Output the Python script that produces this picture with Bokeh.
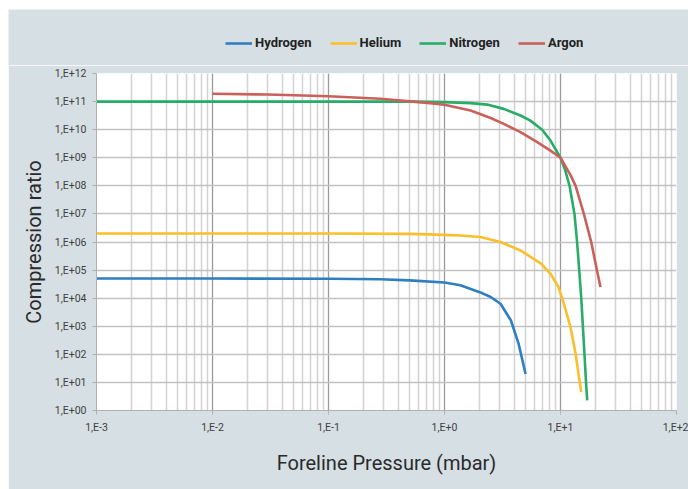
from bokeh.plotting import figure
from bokeh.layouts import column, row
from bokeh.models import (Range1d, FixedTicker, CustomJSTickFormatter, Legend, LegendItem)
from bokeh.embed import file_html
from bokeh.resources import INLINE

# ---- data ----
hydrogen_x = [1e-3, 0.01, 0.1, 0.28, 0.5, 1.0, 1.37, 2.04, 2.5, 3.04, 3.74, 4.35, 5.0]
hydrogen_y = [5.0e4, 5.0e4, 4.9e4, 4.7e4, 4.3e4, 3.6e4, 2.9e4, 1.6e4, 1.1e4, 6.3e3, 1.6e3, 2.4e2, 2.0e1]

helium_x = [1e-3, 0.01, 0.1, 0.5, 1.0, 1.37, 2.04, 3.04, 4.52, 6.8, 8.2, 9.6, 10.7, 12.2, 13.5, 14.3, 15.1]
helium_y = [2.0e6, 2.0e6, 2.0e6, 1.95e6, 1.8e6, 1.7e6, 1.5e6, 1.0e6, 5.0e5, 1.7e5, 7.4e4, 2.5e4, 6.3e3, 9.3e2, 1.05e2, 2.0e1, 4.5]

nitrogen_x = [1e-3, 0.01, 0.1, 0.5, 1.0, 1.68, 2.33, 3.24, 4.52, 5.5, 6.95, 8.2, 10.0, 11.0, 11.97,
              13.2, 13.9, 14.5, 15.1, 16.1, 16.6, 17.0]
nitrogen_y = [1.0e11, 1.0e11, 1.0e11, 1.0e11, 9.6e10, 8.8e10, 7.8e10, 5.5e10, 3.2e10, 2.1e10, 1.0e10, 4.1e9,
              1.0e9, 3.5e8, 1.0e8, 1.0e7, 1.0e6, 1.0e5, 1.0e4, 1.0e2, 1.0e1, 2.3]

argon_x = [0.01, 0.03, 0.1, 0.28, 0.75, 1.0, 1.68, 2.5, 3.24, 4.52, 6.3, 8.2, 10.0, 12.2, 13.5,
           15.9, 18.4, 20.6, 22.1]
argon_y = [1.9e11, 1.78e11, 1.55e11, 1.26e11, 8.8e10, 7.7e10, 4.8e10, 2.6e10, 1.6e10, 8.2e9, 3.6e9,
           1.8e9, 1.0e9, 2.4e8, 1.0e8, 1.0e7, 1.0e6, 1.0e5, 2.5e4]

series_names = ["Hydrogen", "Helium", "Nitrogen", "Argon"]
series_colors = ["#2f7ec1", "#fbbf2a", "#28ad68", "#c9605a"]

x_ticks = [1e-3, 1e-2, 1e-1, 1e0, 1e1, 1e2]
x_tick_labels = ["1,E-3", "1,E-2", "1,E-1", "1,E+0", "1,E+1", "1,E+2"]
y_ticks = [1e0, 1e1, 1e2, 1e3, 1e4, 1e5, 1e6, 1e7, 1e8, 1e9, 1e10, 1e11, 1e12]
y_tick_labels = ["1,E+00", "1,E+01", "1,E+02", "1,E+03", "1,E+04", "1,E+05", "1,E+06",
                 "1,E+07", "1,E+08", "1,E+09", "1,E+10", "1,E+11", "1,E+12"]

FONT = "Roboto"
BG = "#d6dfe3"

# ---- legend strip (top); its data window is empty so only the legend shows ----
leg = figure(width=680, height=56, x_axis_type=None, y_axis_type=None,
             x_range=Range1d(0, 1), y_range=Range1d(-2, -1),
             output_backend="svg", toolbar_location=None,
             min_border_left=0, min_border_right=0, min_border_top=0, min_border_bottom=0,
             background_fill_color=BG, border_fill_color=BG)
leg.outline_line_color = None

# ---- main plot ----
p = figure(width=680, height=424, x_axis_type="log", y_axis_type="log",
           x_range=Range1d(1e-3, 1e2), y_range=Range1d(1, 1e12),
           output_backend="svg", toolbar_location=None,
           min_border_left=88, min_border_right=12, min_border_top=8, min_border_bottom=79,
           background_fill_color="white", border_fill_color=BG)
p.outline_line_color = None

x_minor = [m * t for t in x_ticks[:-1] for m in range(2, 10)]
p.xaxis.ticker = FixedTicker(ticks=x_ticks, minor_ticks=x_minor)
p.yaxis.ticker = FixedTicker(ticks=y_ticks, minor_ticks=[])

fmt_code = """
for (let i = 0; i < tvals.length; i++) {
  if (Math.abs(Math.log10(tvals[i]) - Math.log10(tick)) < 1e-6) return tlabels[i];
}
return "";
"""
p.xaxis.formatter = CustomJSTickFormatter(args=dict(tvals=x_ticks, tlabels=x_tick_labels), code=fmt_code)
p.yaxis.formatter = CustomJSTickFormatter(args=dict(tvals=y_ticks, tlabels=y_tick_labels), code=fmt_code)

for ax in (p.xaxis[0], p.yaxis[0]):
    ax.axis_line_color = "#b0b0b0"
    ax.major_tick_line_color = "#b0b0b0"
    ax.minor_tick_line_color = None
    ax.major_tick_out = 4
    ax.major_tick_in = 0
    ax.major_label_text_font = FONT
    ax.major_label_text_font_size = "10.5px"
    ax.major_label_text_color = "#404040"
    ax.axis_label_text_font = FONT
    ax.axis_label_text_font_size = "20px"
    ax.axis_label_text_font_style = "normal"
    ax.axis_label_text_color = "#2a2a2a"

p.xaxis.axis_label = "Foreline Pressure (mbar)"
p.yaxis.axis_label = "Compression ratio"
p.xaxis.major_label_standoff = 6
p.yaxis.major_label_standoff = 6
p.xaxis.axis_label_standoff = 14
p.yaxis.axis_label_standoff = 6

p.xgrid.grid_line_color = "#9a9a9a"
p.xgrid.grid_line_width = 1.3
p.xgrid.minor_grid_line_color = "#d2d2d2"
p.xgrid.minor_grid_line_width = 1.5
p.ygrid.grid_line_color = "#c2c2c2"
p.ygrid.grid_line_width = 1.5

series = [(hydrogen_x, hydrogen_y), (helium_x, helium_y), (nitrogen_x, nitrogen_y), (argon_x, argon_y)]
items = []
for (xs, ys), name, col in zip(series, series_names, series_colors):
    p.line(xs, ys, line_color=col, line_width=2.6)
    # same series in the legend strip (outside its visible window) to provide the swatch
    r_leg = leg.line(xs, ys, line_color=col, line_width=2.6)
    items.append(LegendItem(label=name, renderers=[r_leg]))

legend = Legend(items=items, orientation="horizontal", location=(217, 15),
                background_fill_alpha=0, border_line_color=None,
                label_text_font=FONT, label_text_font_size="13px", label_text_font_style="bold",
                label_text_color="#222222", glyph_width=27, glyph_height=14,
                label_standoff=3, spacing=18, padding=0, margin=0)
leg.add_layout(legend, "center")

layout = column(row(leg, spacing=0), p, spacing=0)
layout.margin = (9, 0, 0, 8)

open("out.html", "w").write(file_html(layout, INLINE))
